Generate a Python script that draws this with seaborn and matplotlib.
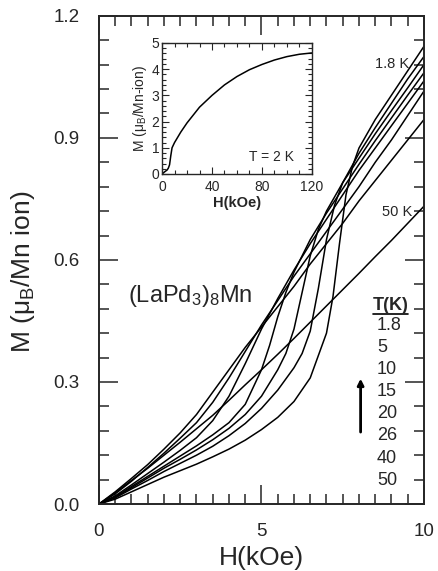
import numpy as np
import pandas as pd
import matplotlib
matplotlib.use('Agg')
import matplotlib.pyplot as plt
import seaborn as sns

# M(H) curves, main panel (H in kOe, M in muB/Mn ion)
temps = ['1.8', '5', '10', '15', '20', '26', '40', '50']

H_18 = [0, 0.5, 1, 1.5, 2, 2.5, 3, 3.5, 4, 4.5, 5, 5.5, 6, 6.5, 7, 7.2, 7.4, 7.6, 7.8, 8, 8.5, 9, 9.5, 10]
M_18 = [0, 0.012, 0.03, 0.048, 0.066, 0.082, 0.098, 0.116, 0.135, 0.157, 0.183, 0.213, 0.252, 0.31, 0.42, 0.51, 0.64, 0.76, 0.83, 0.875, 0.945, 1.005, 1.065, 1.125]

H_5 = [0, 0.5, 1, 1.5, 2, 2.5, 3, 3.5, 4, 4.5, 5, 5.5, 6, 6.25, 6.5, 6.75, 7, 7.25, 7.5, 8, 8.5, 9, 9.5, 10]
M_5 = [0, 0.015, 0.037, 0.058, 0.08, 0.1, 0.12, 0.142, 0.168, 0.198, 0.235, 0.28, 0.335, 0.37, 0.425, 0.53, 0.65, 0.735, 0.79, 0.862, 0.925, 0.985, 1.045, 1.10]

H_10 = [0, 0.5, 1, 1.5, 2, 2.5, 3, 3.5, 4, 4.5, 5, 5.5, 5.75, 6, 6.25, 6.5, 6.75, 7, 7.5, 8, 8.5, 9, 9.5, 10]
M_10 = [0, 0.017, 0.04, 0.064, 0.088, 0.11, 0.133, 0.158, 0.186, 0.22, 0.265, 0.33, 0.37, 0.43, 0.52, 0.61, 0.675, 0.72, 0.79, 0.85, 0.91, 0.967, 1.023, 1.08]

H_15 = [0, 0.5, 1, 1.5, 2, 2.5, 3, 3.5, 4, 4.5, 5, 5.25, 5.5, 5.75, 6, 6.5, 7, 7.5, 8, 8.5, 9, 9.5, 10]
M_15 = [0, 0.018, 0.043, 0.068, 0.093, 0.118, 0.143, 0.17, 0.2, 0.245, 0.33, 0.39, 0.46, 0.52, 0.57, 0.65, 0.715, 0.775, 0.835, 0.893, 0.949, 1.005, 1.06]

H_20 = [0, 0.5, 1, 1.5, 2, 2.5, 3, 3.5, 4, 4.5, 5, 5.5, 6, 6.5, 7, 7.5, 8, 8.5, 9, 9.5, 10]
M_20 = [0, 0.02, 0.047, 0.075, 0.103, 0.132, 0.163, 0.205, 0.265, 0.345, 0.43, 0.505, 0.575, 0.64, 0.70, 0.76, 0.82, 0.875, 0.93, 0.985, 1.04]

H_26 = [0, 0.5, 1, 1.5, 2, 2.5, 3, 3.5, 4, 4.5, 5, 5.5, 6, 6.5, 7, 7.5, 8, 8.5, 9, 9.5, 10]
M_26 = [0, 0.025, 0.056, 0.09, 0.125, 0.162, 0.2, 0.25, 0.31, 0.375, 0.44, 0.50, 0.56, 0.615, 0.67, 0.725, 0.78, 0.84, 0.895, 0.955, 1.015]

H_40 = [0, 0.5, 1, 1.5, 2, 2.5, 3, 3.5, 4, 4.5, 5, 5.5, 6, 6.5, 7, 7.5, 8, 8.5, 9, 9.5, 10]
M_40 = [0, 0.03, 0.063, 0.097, 0.135, 0.175, 0.22, 0.275, 0.33, 0.385, 0.435, 0.485, 0.535, 0.59, 0.64, 0.69, 0.745, 0.795, 0.845, 0.895, 0.945]

H_50 = [0, 0.5, 1, 1.5, 2, 2.5, 3, 3.5, 4, 4.5, 5, 5.5, 6, 6.5, 7, 7.5, 8, 8.5, 9, 9.5, 10]
M_50 = [0, 0.028, 0.058, 0.088, 0.12, 0.152, 0.185, 0.218, 0.255, 0.293, 0.33, 0.368, 0.407, 0.447, 0.487, 0.527, 0.567, 0.608, 0.648, 0.69, 0.732]

# inset: T = 2 K up to 120 kOe
H_ins = [0, 2, 4, 5, 6, 7, 8, 10, 15, 20, 30, 40, 50, 60, 70, 80, 90, 100, 110, 120]
M_ins = [0, 0.08, 0.15, 0.22, 0.35, 0.7, 1.0, 1.2, 1.6, 1.95, 2.55, 3.0, 3.4, 3.72, 3.98, 4.18, 4.35, 4.48, 4.57, 4.62]

curves = [(H_18, M_18), (H_5, M_5), (H_10, M_10), (H_15, M_15),
          (H_20, M_20), (H_26, M_26), (H_40, M_40), (H_50, M_50)]
frames = []
for t, (h, m) in zip(temps, curves):
    frames.append(pd.DataFrame({'H': h, 'M': m, 'T': t}))
df = pd.concat(frames, ignore_index=True)

sns.set_style('ticks')
plt.rcParams['font.family'] = ['Liberation Sans', 'DejaVu Sans']
plt.rcParams['mathtext.fontset'] = 'custom'
plt.rcParams['mathtext.rm'] = 'Liberation Sans'
plt.rcParams['mathtext.it'] = 'Liberation Sans:italic'
plt.rcParams['mathtext.bf'] = 'Liberation Sans:bold'

fig = plt.figure(figsize=(4.38, 5.71), dpi=100)
ax = fig.add_axes([0.226, 0.1173, 0.742, 0.855])

sns.lineplot(data=df, x='H', y='M', units='T', estimator=None, sort=False,
             color='black', lw=1.1, ax=ax, legend=False)

ax.set_xlim(0, 10)
ax.set_ylim(0, 1.2)
ax.set_xticks([0, 5, 10])
ax.set_xticks(np.arange(0, 10.01, 0.5), minor=True)
ax.set_yticks([0, 0.3, 0.6, 0.9, 1.2])
ax.set_yticklabels(['0.0', '0.3', '0.6', '0.9', '1.2'])
ax.set_yticks(np.arange(0, 1.201, 0.06), minor=True)
ax.tick_params(which='both', direction='in', top=True, right=True, labelsize=13.5, width=1.1, pad=14)
ax.tick_params(which='major', length=14)
ax.tick_params(which='minor', length=7)
for s in ax.spines.values():
    s.set_linewidth(1.4)
ax.set_xlabel('H(kOe)', fontsize=19, labelpad=4)
ax.set_ylabel(r'M (μ$_{\rm B}$/Mn ion)', fontsize=19)
ax.yaxis.set_label_coords(-0.19, 0.475)

ax.text(0.9, 0.497, r'(LaPd$_3$)$_8$Mn', fontsize=17, va='baseline')
ax.text(8.5, 1.082, '1.8 K', fontsize=10.5, va='center')
ax.text(8.72, 0.718, '50 K', fontsize=10.5, va='center')

ax.text(8.43, 0.487, 'T(K)', fontsize=13, fontweight='bold', va='center')
ax.plot([0.843, 0.951], [0.389, 0.389], color='black', lw=1.2, transform=ax.transAxes)
for i, t in enumerate(temps):
    ax.text(8.55, 0.44 - i * 0.0545, t, fontsize=13, va='center')
ax.annotate('', xy=(8.05, 0.315), xytext=(8.05, 0.17),
            arrowprops=dict(arrowstyle='-|>', lw=2, color='black', mutation_scale=9))

# inset
axi = fig.add_axes([0.370, 0.6953, 0.342, 0.2294])
sns.lineplot(x=H_ins, y=M_ins, color='black', lw=1.1, ax=axi, sort=False, estimator=None)
axi.set_xlim(0, 120)
axi.set_ylim(0, 5)
axi.set_xticks([0, 40, 80, 120])
axi.set_xticks(np.arange(0, 121, 10), minor=True)
axi.set_yticks([0, 1, 2, 3, 4, 5])
axi.set_yticks(np.arange(0, 5.01, 0.2), minor=True)
axi.tick_params(which='both', direction='in', top=True, right=True, labelsize=10, width=0.8)
axi.tick_params(axis='x', which='both', pad=4)
axi.tick_params(axis='y', which='both', pad=2)
axi.tick_params(which='major', length=5)
axi.tick_params(which='minor', length=3)
for s in axi.spines.values():
    s.set_linewidth(1.0)
axi.set_xlabel('H(kOe)', fontsize=10.5, fontweight='bold', labelpad=2)
axi.set_ylabel(r'M (μ$_{\rm B}$/Mn-ion)', fontsize=10, labelpad=2)
axi.text(70, 0.63, 'T = 2 K', fontsize=10, va='center')

fig.savefig('out.png', dpi=100)
